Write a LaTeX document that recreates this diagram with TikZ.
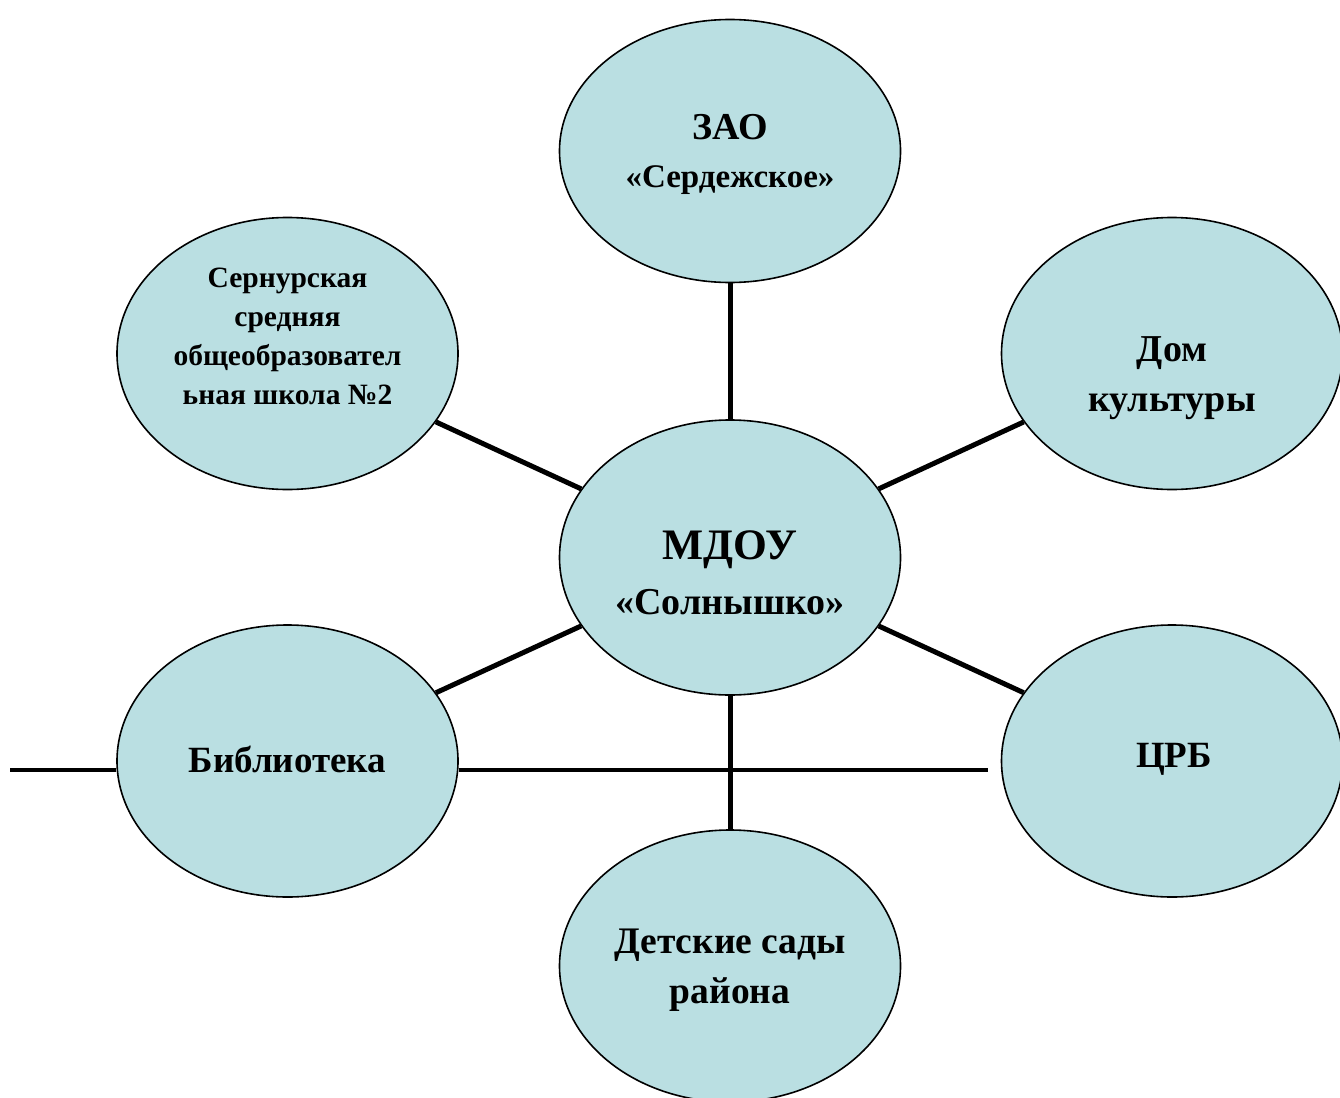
\documentclass[tikz,border=0pt]{standalone}
\usepackage{fontspec}
\setmainfont{Liberation Serif}
\usetikzlibrary{shapes.geometric}
\definecolor{bubble}{RGB}{186,223,226}
\begin{document}
\begin{tikzpicture}[x=1pt,y=-1pt,
  bub/.style={ellipse,draw=black,line width=1.6pt,fill=bubble,inner sep=0pt,minimum width=341pt,minimum height=272pt},
  conn/.style={line width=5pt},
  hline/.style={line width=4pt},
  lbl/.style={align=center,font=\bfseries,inner sep=0pt}]
\useasboundingbox (0,0) rectangle (1340,1097);
\begin{scope}
\clip (0,0) rectangle (1340,1097);
\node[bub,minimum height=263pt] (zao) at (730,151) {};
\node[bub] (ser) at (287.5,353.5) {};
\node[bub] (dom) at (1172,353.5) {};
\node[bub,minimum height=275pt] (mdou) at (730,557.5) {};
\node[bub] (bib) at (287.5,761) {};
\node[bub] (crb) at (1172,761) {};
\node[bub,minimum height=272pt] (det) at (730,966) {};
\coordinate (hl) at (10,770);
\coordinate (hr) at (988,770);
\draw[conn] (zao) -- (mdou);
\draw[conn] (ser) -- (mdou);
\draw[conn] (dom) -- (mdou);
\draw[conn] (bib) -- (mdou);
\draw[conn] (crb) -- (mdou);
\draw[conn] (mdou) -- (det);
\draw[hline] (hl) -- (hl -| bib.west);
\draw[hline] (hr -| bib.east) -- (hr);
\end{scope}
\node[lbl,font=\bfseries\fontsize{33}{48}\selectfont] (tzao) at (730,154) {{\fontsize{38}{48}\selectfont ЗАО}\\«Сердежское»};
\node[lbl,font=\bfseries\fontsize{29.5}{39}\selectfont] (tser) at (287.5,336) {Сернурская\\средняя\\общеобразовател\\ьная школа №2};
\node[lbl,font=\bfseries\fontsize{38}{50}\selectfont] (tdom) at (1172,378) {Дом\\культуры};
\node[lbl,font=\bfseries\fontsize{38}{55}\selectfont] (tmdou) at (730,573) {{\fontsize{43.5}{55}\selectfont МДОУ}\\«Солнышко»};
\node[lbl,font=\bfseries\fontsize{37}{50}\selectfont] (tbib) at (287.5,759) {Библиотека};
\node[lbl,font=\bfseries\fontsize{37}{50}\selectfont] (tcrb) at (1174,759) {ЦРБ};
\node[lbl,font=\bfseries\fontsize{37.5}{50}\selectfont] (tdet) at (730,970) {Детские сады\\района};
\end{tikzpicture}
\end{document}
